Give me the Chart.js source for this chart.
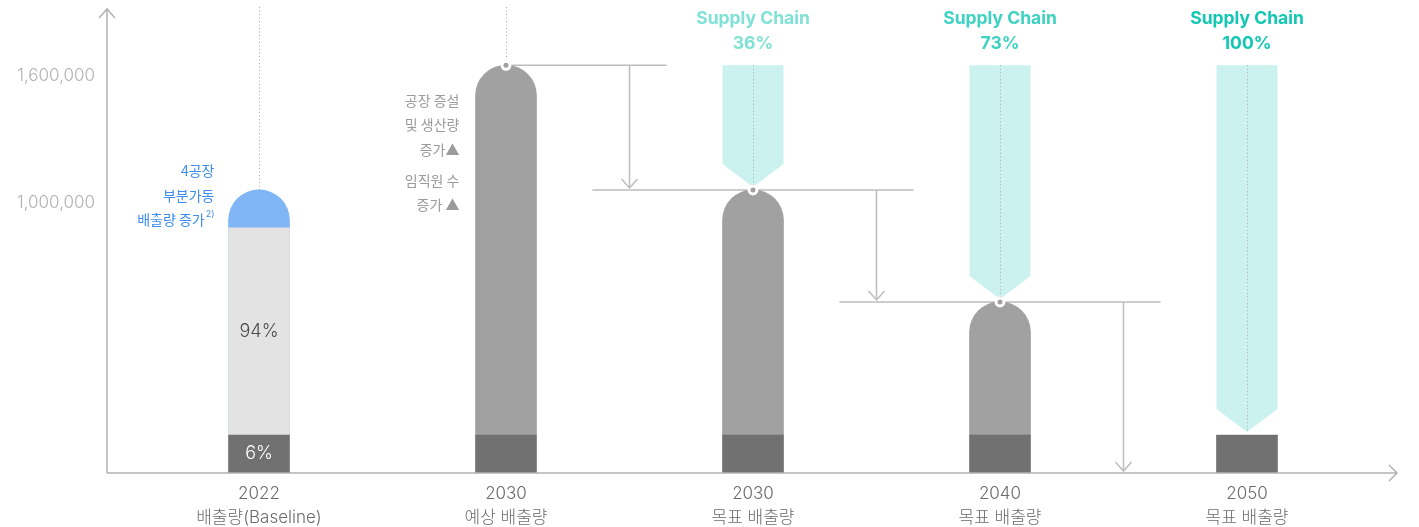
<!DOCTYPE html>
<html lang="ko">
<head>
<meta charset="utf-8">
<script src="https://cdn.jsdelivr.net/npm/chart.js@4.4.1/dist/chart.umd.min.js"></script>
<style>
  html, body { margin: 0; padding: 0; background: #fff; }
  #wrap { width: 1419px; height: 527px; }
</style>
</head>
<body>
<div id="wrap"><canvas id="chart"></canvas></div>
<script>
// categories (x = index)
const categories = [
  ['2022', '배출량(Baseline)'],
  ['2030', '예상 배출량'],
  ['2030', '목표 배출량'],
  ['2040', '목표 배출량'],
  ['2050', '목표 배출량'],
];
const yTicks = [1000000, 1600000];
const yMin = -280000;
const yMax = 1907000;

// emission levels (schematic)
const baseTop = -100000;                                   // 6% block
const totalTop = [1060000, 1650000, 1060000, 530000, null]; // top of each column
const baselineShareTop = 880000;                            // 94% block of 2022
const shareLabels = ['94%', '6%'];

// supply chain reduction arrows
const supplyShare = [null, null, '36%', '73%', '100%'];
const supplyTop = 1650000;

// reduction steps
const markerAt = [1, 2, 3];
const levelLines = [
  { y: 1650000, from: 1, to: 1.65 },
  { y: 1060000, from: 1.35, to: 2.65 },
  { y: 530000, from: 2.35, to: 3.65 },
];
const dropArrows = [
  { x: 1.5, from: 1650000, to: 1060000 },
  { x: 2.5, from: 1060000, to: 530000 },
  { x: 3.5, from: 530000, to: yMin },
];

const noteBaseline = ['4공장', '부분가동', '배출량 증가'];
const noteForecast = [['공장 증설', '및 생산량', '증가▲'], ['임직원 수', '증가 ▲']];

const FONT = "Inter, 'Noto Sans CJK KR', sans-serif";
const KFONT = "'Noto Sans CJK KR', Inter, sans-serif";
const xs = categories.map((_, i) => i);
const supplyIdx = xs.filter((i) => supplyShare[i]);
const supplyTip = (i) => (totalTop[i] !== null ? totalTop[i] : baseTop);
const totalIdx = xs.filter((i) => totalTop[i] !== null);

const decor = {
  id: 'decor',
  beforeDatasetsDraw(chart) {
    const { ctx, chartArea } = chart;
    const { x, y } = chart.scales;
    ctx.save();

    // supply chain chevrons
    ctx.fillStyle = '#ccf2ef';
    chart.getDatasetMeta(4).data.forEach((bar) => {
      const { x: cx, y: top, base, width } = bar.getProps(['x', 'y', 'base', 'width'], true);
      const h = width / 2;
      const tip = base - 3;
      const notch = tip - 23;
      ctx.beginPath();
      ctx.moveTo(cx - h, top);
      ctx.lineTo(cx + h, top);
      ctx.lineTo(cx + h, notch);
      ctx.lineTo(cx, tip);
      ctx.lineTo(cx - h, notch);
      ctx.closePath();
      ctx.fill();
    });

    // dotted centre guides
    ctx.strokeStyle = '#a8a8a8';
    ctx.lineWidth = 1;
    ctx.setLineDash([1, 2.5]);
    xs.forEach((i) => {
      const px = Math.round(x.getPixelForValue(i)) + 0.5;
      let from, to;
      if (supplyShare[i]) {
        from = y.getPixelForValue(supplyTop);
        to = y.getPixelForValue(supplyTip(i)) - 4;
      } else {
        from = chartArea.top - 4;
        to = y.getPixelForValue(totalTop[i]);
      }
      ctx.beginPath();
      ctx.moveTo(px, from);
      ctx.lineTo(px, to);
      ctx.stroke();
    });
    ctx.setLineDash([]);

    // level lines + drop arrows
    ctx.strokeStyle = '#bdbdbd';
    ctx.lineWidth = 1.5;
    levelLines.forEach((l) => {
      const py = y.getPixelForValue(l.y);
      ctx.beginPath();
      ctx.moveTo(x.getPixelForValue(l.from), py);
      ctx.lineTo(x.getPixelForValue(l.to), py);
      ctx.stroke();
    });
    dropArrows.forEach((a) => {
      const px = x.getPixelForValue(a.x);
      const y0 = y.getPixelForValue(a.from);
      const y1 = y.getPixelForValue(a.to) - 2;
      ctx.beginPath();
      ctx.moveTo(px, y0);
      ctx.lineTo(px, y1);
      ctx.moveTo(px - 8, y1 - 9);
      ctx.lineTo(px, y1);
      ctx.lineTo(px + 8, y1 - 9);
      ctx.stroke();
    });
    ctx.restore();
  },
  afterDatasetsDraw(chart) {
    const { ctx, chartArea } = chart;
    const { x, y } = chart.scales;
    ctx.save();

    // axes with open arrow heads
    ctx.strokeStyle = '#b3b3b3';
    ctx.lineWidth = 1.5;
    const ox = chartArea.left, oy = chartArea.bottom;
    ctx.beginPath();
    ctx.moveTo(ox, oy);
    ctx.lineTo(ox, chartArea.top - 2);
    ctx.moveTo(ox - 8, chartArea.top + 7);
    ctx.lineTo(ox, chartArea.top - 2);
    ctx.lineTo(ox + 8, chartArea.top + 7);
    ctx.moveTo(ox, oy);
    ctx.lineTo(chartArea.right, oy);
    ctx.moveTo(chartArea.right - 8, oy - 8);
    ctx.lineTo(chartArea.right, oy);
    ctx.lineTo(chartArea.right - 8, oy + 8);
    ctx.stroke();

    // share labels inside 2022 column
    const x0 = x.getPixelForValue(0);
    ctx.textAlign = 'center';
    ctx.textBaseline = 'middle';
    ctx.font = `300 18px ${FONT}`;
    ctx.fillStyle = '#4a4a4a';
    ctx.fillText(shareLabels[0], x0, (y.getPixelForValue(baseTop) + y.getPixelForValue(baselineShareTop)) / 2);
    ctx.fillStyle = '#ffffff';
    ctx.fillText(shareLabels[1], x0, (y.getPixelForValue(baseTop) + y.getPixelForValue(yMin)) / 2);

    // supply chain titles
    const scColors = { '36%': '#80e1d5', '73%': '#3ed2c2', '100%': '#12c7b3' };
    const topPx = y.getPixelForValue(supplyTop);
    ctx.font = `700 17.5px ${FONT}`;
    supplyIdx.forEach((i) => {
      const px = x.getPixelForValue(i);
      ctx.fillStyle = scColors[supplyShare[i]];
      ctx.fillText('Supply Chain', px, topPx - 47);
      ctx.fillText(supplyShare[i], px, topPx - 22);
    });

    // baseline note (blue)
    const barHalf = chart.getDatasetMeta(1).data[0].width / 2;
    ctx.textAlign = 'right';
    ctx.fillStyle = '#3d8ef0';
    ctx.font = `400 14px ${KFONT}`;
    const right0 = x0 - barHalf - 14;
    const t0 = y.getPixelForValue(totalTop[0]) - 19;
    noteBaseline.forEach((line, k) => {
      if (k === noteBaseline.length - 1) {
        ctx.font = `400 9px ${FONT}`;
        const sw = ctx.measureText('2)').width;
        ctx.fillText('2)', right0, t0 + k * 24.5 - 6);
        ctx.font = `400 14px ${KFONT}`;
        ctx.fillText(line, right0 - sw - 1, t0 + k * 24.5);
      } else {
        ctx.fillText(line, right0, t0 + k * 24.5);
      }
    });

    // forecast note (grey)
    const x1 = x.getPixelForValue(1);
    const right1 = x1 - barHalf - 16;
    const t1 = y.getPixelForValue(totalTop[1]);
    ctx.fillStyle = '#9b9b9b';
    noteForecast[0].forEach((line, k) => ctx.fillText(line, right1, t1 + 35 + k * 24.5));
    noteForecast[1].forEach((line, k) => ctx.fillText(line, right1, t1 + 115 + k * 24.5));
    ctx.restore();
  },
};

const barCommon = { grouped: false, barThickness: 61, borderWidth: 0 };

new Chart(document.getElementById('chart'), {
  type: 'bar',
  data: {
    datasets: [
      {
        type: 'line',
        label: 'markers',
        data: markerAt.map((i) => ({ x: i, y: totalTop[i] })),
        showLine: false,
        pointRadius: 4,
        pointBackgroundColor: '#a0a1a0',
        pointBorderColor: '#ffffff',
        pointBorderWidth: 3,
        order: 0,
      },
      {
        ...barCommon,
        label: '6%',
        data: xs.map((i) => ({ x: i, y: [yMin, baseTop] })),
        backgroundColor: '#717171',
        order: 1,
      },
      {
        ...barCommon,
        label: '94%',
        data: [{ x: 0, y: [baseTop, baselineShareTop] }],
        backgroundColor: '#e3e3e3',
        order: 2,
      },
      {
        ...barCommon,
        label: 'total',
        data: totalIdx.map((i) => ({ x: i, y: [baseTop, totalTop[i]] })),
        backgroundColor: totalIdx.map((i) => (i === 0 ? '#80b6f6' : '#a0a1a0')),
        borderRadius: { topLeft: 31, topRight: 31, bottomLeft: 0, bottomRight: 0 },
        borderSkipped: 'start',
        order: 3,
      },
      {
        ...barCommon,
        label: 'supply chain',
        data: supplyIdx.map((i) => ({ x: i, y: [supplyTip(i), supplyTop] })),
        backgroundColor: 'rgba(0,0,0,0)',
        order: 4,
      },
    ],
  },
  options: {
    responsive: true,
    maintainAspectRatio: false,
    animation: false,
    layout: { padding: { top: 11, right: 22, left: 0, bottom: 0 } },
    plugins: { legend: { display: false }, tooltip: { enabled: false } },
    scales: {
      x: {
        type: 'linear',
        min: -0.6154,
        max: 4.6073,
        offset: false,
        grid: { display: false, drawTicks: false, offset: false },
        border: { display: false },
        afterBuildTicks: (s) => { s.ticks = xs.map((v) => ({ value: v })); },
        afterFit: (s) => { s.height = 54; s.paddingLeft = 0; s.paddingRight = 0; },
        ticks: {
          autoSkip: false,
          maxRotation: 0,
          padding: 9,
          color: '#6b6b6b',
          font: { family: FONT, size: 17, weight: '300', lineHeight: 1.42 },
          callback: (v) => categories[v],
        },
      },
      y: {
        min: yMin,
        max: yMax,
        grid: { display: false, drawTicks: false },
        border: { display: false },
        afterBuildTicks: (s) => { s.ticks = yTicks.map((v) => ({ value: v })); },
        afterFit: (s) => { s.width = 107; s.paddingTop = 0; s.paddingBottom = 0; },
        ticks: {
          padding: 12,
          color: '#b2b2b2',
          font: { family: FONT, size: 17, weight: '300' },
          callback: (v) => v.toLocaleString('en-US'),
        },
      },
    },
  },
  plugins: [decor],
});
</script>
</body>
</html>
